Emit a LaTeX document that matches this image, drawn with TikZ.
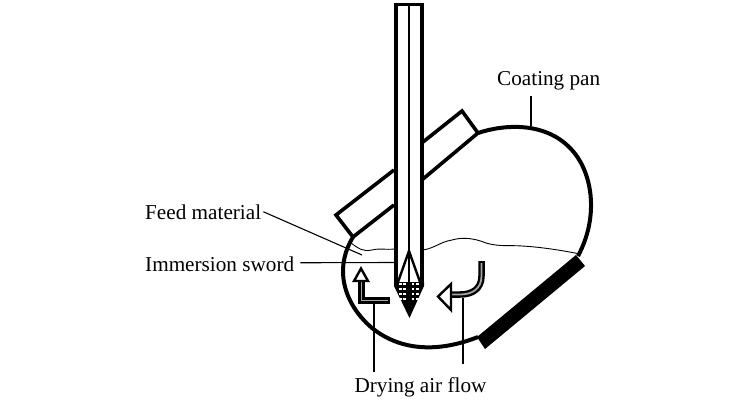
\documentclass[tikz,border=0pt]{standalone}
\usepackage{fontspec}
\setmainfont{Liberation Serif}
\usetikzlibrary{calc}
\tikzset{
  wall/.style={line width=3.6pt, line join=miter},
  leader/.style={line width=1.1pt},
  surface/.style={line width=0.9pt},
  flowshaft/.style={line width=6.5pt, line join=miter},
  flowcore/.style={line width=1.8pt, line join=miter, color=black!35},
  flowhead/.style={line width=2.4pt, fill=white, line join=miter},
  every node/.style={font=\fontsize{21.2}{24}\selectfont, inner sep=0pt}
}
\begin{document}
\begin{tikzpicture}[x=1pt,y=-1pt]
  \useasboundingbox (0,0) rectangle (750,400);
  % pan body
  \draw[wall, line width=4pt] (478,133) .. controls (505,124) and (545,122) .. (570,148)
      .. controls (592,170) and (600,215) .. (578,256);
  \draw[wall, line width=4pt] (478,337) .. controls (440,352) and (402,352) .. (372,328)
      .. controls (345,305) and (333,270) .. (353,237);
  % mouth of the pan
  \draw[wall] (423,179) -- (478,133) -- (462,111) -- (423,142);
  \draw[wall] (394,170) -- (336,215) -- (353,237) -- (394,205);
  % heating plate
  \fill (477,337) -- (576,255) -- (585,266) -- (485,349) -- cycle;
  % feed material surface
  \draw[surface] (351,243) .. controls (358,248) and (362,252) .. (372,250)
      .. controls (380,248) and (386,250) .. (394,249);
  \draw[surface] (423,250) .. controls (435,248) and (440,242) .. (452,240)
      .. controls (462,237) and (474,238) .. (486,243)
      .. controls (500,247) and (510,245) .. (522,246)
      .. controls (540,247) and (560,250) .. (580,254);
  % sword
  \draw[wall, fill=white] (396,285) -- (396,4.5) -- (422,4.5) -- (422,285);
  \draw[line width=2.4pt] (409,4) -- (409,300);
  \draw[line width=2.4pt] (398,282) -- (409,251) -- (420,282);
  \fill (394,282) -- (424,282) -- (424,286) -- (409.5,318) -- (394,286) -- cycle;
  \foreach \y in {284,289,294,299}
    \foreach \x in {400.5,404.5,413,417.5}
      \fill[white] (\x-1.2,\y-1.2) rectangle (\x+1.2,\y+1.2);
  % air flow arrows
  \draw[flowshaft] (390,300.5) -- (361.5,300.5) -- (361.5,278);
  \draw[flowcore] (388,300.5) -- (361.5,300.5) -- (361.5,280);
  \draw[flowhead] (361,268.5) -- (368,281) -- (354,281) -- cycle;
  \draw[flowshaft] (481.5,261) -- (481.5,276) .. controls (481.5,289) and (472,294.5) .. (460,294.5) -- (450,294.5);
  \draw[flowcore] (481.5,263) -- (481.5,276) .. controls (481.5,289) and (472,294.5) .. (460,294.5) -- (450,294.5);
  \draw[flowhead] (438,296.5) -- (451,284) -- (451,310) -- cycle;
  % labels
  \node[anchor=base west] (coating) at (497,85) {Coating pan};
  \node[anchor=base west] (feed) at (145,219) {Feed material};
  \node[anchor=base west] (sword) at (145,271) {Immersion sword};
  \node[anchor=base] (drying) at (420.5,392) {Drying air flow};
  \coordinate (coatingend) at (531,126);
  \coordinate (feedend) at (362,255);
  \coordinate (swordend) at (394,262.5);
  \coordinate (airleft) at (374,303);
  \coordinate (airright) at (463,298);
  \draw[leader] (531,96) -- (coatingend);
  \draw[leader] (feed.east) ++(2,0) -- (feedend);
  \draw[leader] (sword.east) ++(6,-1) -- (swordend);
  \draw[leader] (airleft) -- (374,372);
  \draw[leader] (airright) -- (463,364);
\end{tikzpicture}
\end{document}
